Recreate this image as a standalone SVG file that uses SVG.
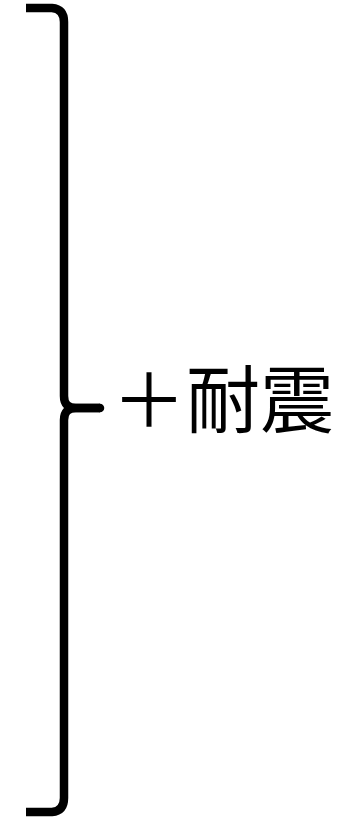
<svg xmlns="http://www.w3.org/2000/svg" width="347" height="820" viewBox="0 0 347 820">
<style>
.br{fill:none;stroke:#000;stroke-width:8.5;stroke-linejoin:round}
.t{font-family:"Noto Sans CJK JP","Noto Sans CJK SC",sans-serif;font-size:74px;fill:#000}
</style>
<rect width="347" height="820" fill="#fff"/>
<g id="connectors">
<path class="br" d="M26,8 H52 Q64,9 64,22 V396 Q64,408 76,408 H100"/>
<path class="br" d="M100,408 H76 Q64,408 64,420 V798 Q64,811 52,812 H26"/>
<circle cx="100" cy="408" r="4.25"/>
</g>
<g id="label">
<text class="t" x="112" y="427">＋耐震</text>
</g>
</svg>
